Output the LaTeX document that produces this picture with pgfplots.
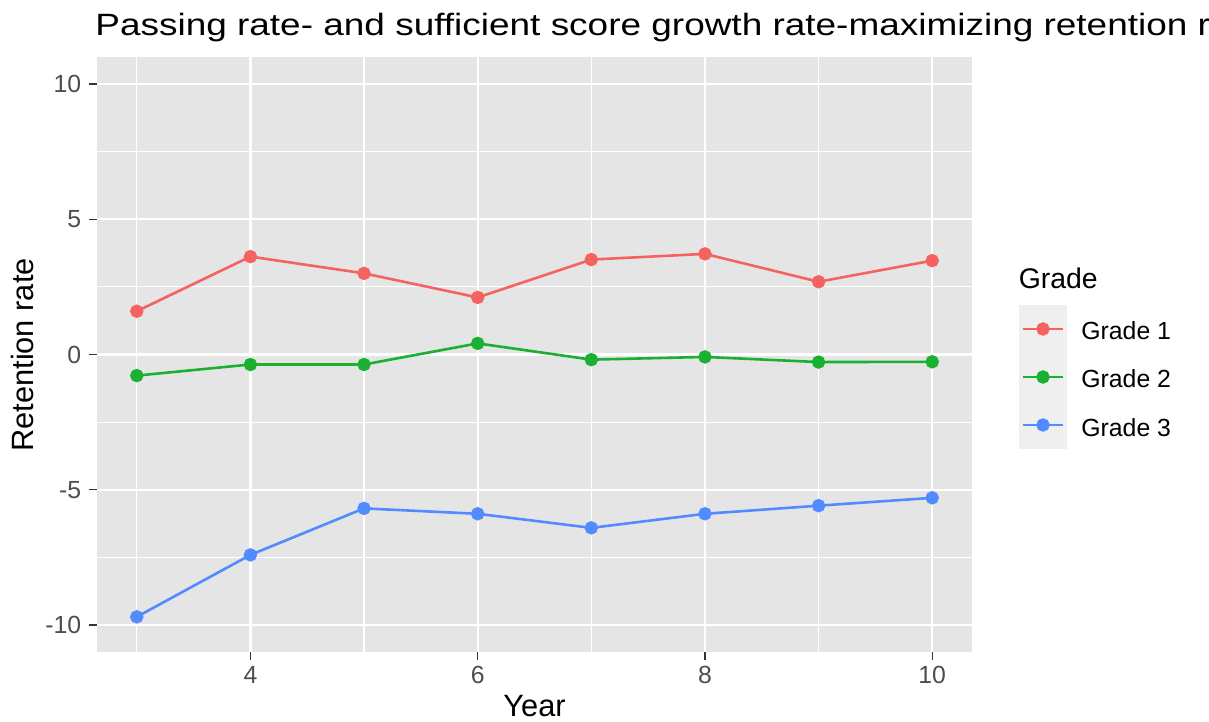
\documentclass[border=0pt]{standalone}
\usepackage{pgfplots}
\pgfplotsset{compat=1.18}
\usepackage{fontspec}
\setmainfont{Liberation Sans}
\newfontfamily\titlefont[FakeStretch=1.2]{Liberation Sans}
\definecolor{gA}{RGB}{245,98,95}
\definecolor{gB}{RGB}{26,176,50}
\definecolor{gC}{RGB}{82,139,255}
\definecolor{panelbg}{HTML}{E5E5E5}
\definecolor{keybg}{HTML}{EFEFEF}
\definecolor{tickc}{HTML}{333333}
\definecolor{labc}{HTML}{4D4D4D}
\begin{document}
\begin{tikzpicture}[x=1pt,y=1pt]
\path[use as bounding box] (0,0) rectangle (604.5,361);
\fill[keybg] (509.5,136.5) rectangle (533.5,208.5);
\begin{axis}[
  at={(48.5pt,35pt)}, anchor=south west,
  scale only axis, width=437.5pt, height=297.5pt,
  xmin=2.65, xmax=10.35, ymin=-11, ymax=11,
  xtick={4,6,8,10}, ytick={-10,-5,0,5,10},
  minor xtick={3,5,7,9}, minor ytick={-7.5,-2.5,2.5,7.5},
  grid=both,
  major grid style={white, line width=1.1pt},
  minor grid style={white, line width=0.6pt},
  axis background/.style={fill=panelbg},
  axis line style={draw=none},
  tick pos=left,
  tick align=outside,
  major tick length=4pt,
  minor tick length=0pt,
  tick style={color=tickc, line width=0.6pt},
  /pgf/number format/assume math mode=true,
  ticklabel style={font=\fontsize{12.4}{14}\selectfont, text=labc, inner sep=0pt},
  xticklabel style={anchor=north, yshift=-3pt},
  yticklabel style={anchor=east, xshift=-3.7pt},
  legend style={at={(1.05371,0.58319)}, anchor=north west, draw=none, fill=none,
    inner sep=0pt, outer sep=0pt, row sep=0pt, column sep=7.2pt,
    nodes={inner sep=0pt, anchor=base west, yshift=-5.5pt, font=\fontsize{12.4}{14}\selectfont}},
  legend image code/.code={\path[draw=none,fill=none] (0pt,-12pt) rectangle (24pt,12pt);
    \draw[mark repeat=2,mark phase=2,#1] plot coordinates {(2pt,0pt) (12pt,0pt) (22pt,0pt)};},
]
\addplot[gA, line width=1.3pt, mark=*, mark size=2.7pt] coordinates {(3,1.60) (4,3.62) (5,3.00) (6,2.11) (7,3.51) (8,3.72) (9,2.69) (10,3.47)};
\addlegendentry{Grade 1}
\addplot[gB, line width=1.3pt, mark=*, mark size=2.7pt] coordinates {(3,-0.78) (4,-0.37) (5,-0.37) (6,0.41) (7,-0.19) (8,-0.09) (9,-0.28) (10,-0.27)};
\addlegendentry{Grade 2}
\addplot[gC, line width=1.3pt, mark=*, mark size=2.7pt] coordinates {(3,-9.70) (4,-7.41) (5,-5.69) (6,-5.89) (7,-6.41) (8,-5.89) (9,-5.59) (10,-5.30)};
\addlegendentry{Grade 3}
\end{axis}
\node[anchor=base west, inner sep=0pt, font=\titlefont\fontsize{15.4}{18}\selectfont] at (47.5,343) {Passing rate- and sufficient score growth rate-maximizing retention rate};
\node[anchor=base, inner sep=0pt, font=\fontsize{15.4}{18}\selectfont] at (267.25,2.65) {Year};
\node[anchor=base, rotate=90, inner sep=0pt, font=\fontsize{15.4}{18}\selectfont] at (16.65,183.5) {Retention rate};
\node[anchor=base west, inner sep=0pt, font=\fontsize{14.2}{16}\selectfont] at (509.2,216.85) {Grade};
\end{tikzpicture}
\end{document}
